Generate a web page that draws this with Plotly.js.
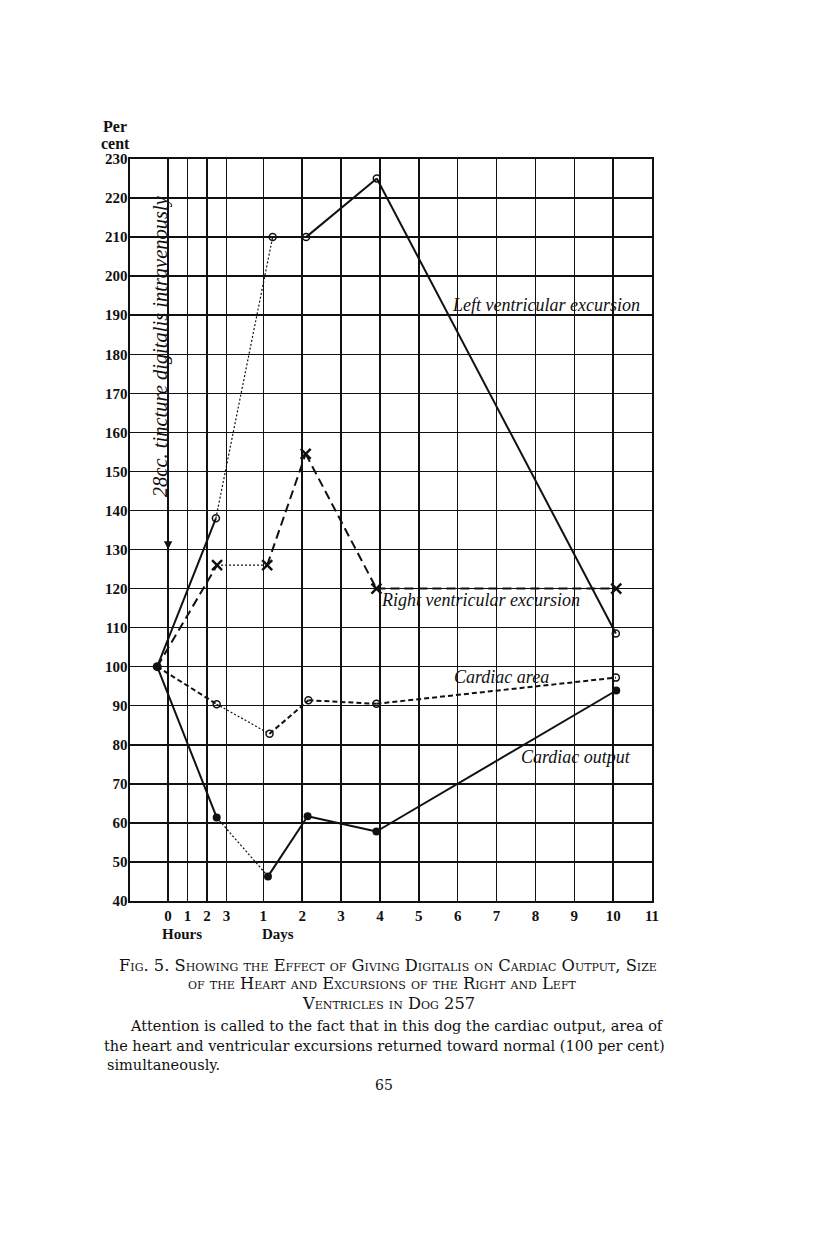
<!DOCTYPE html>
<html>
<head>
<meta charset="utf-8">
<script src="https://cdn.plot.ly/plotly-3.0.1.min.js"></script>
<style>
  html, body { margin: 0; padding: 0; background: #fff; }
  #chart { width: 816px; height: 1238px; }
</style>
</head>
<body>
<div id="chart"></div>
<script>
// ---- Data (x in axis units: hours 0..3 then days 1..11) ----
const tickPositions = [-1.45, -0.95, -0.45, 0.05, 1, 2, 3, 4, 5, 6, 7, 8, 9, 10, 11];
const tickLabels = ['0', '1', '2', '3', '1', '2', '3', '4', '5', '6', '7', '8', '9', '10', '11'];

const lvX = [-1.73, -0.22, 1.24, 2.10, 3.92, 10.07];
const lvY = [100, 138, 210, 210, 225, 108.5];
const rvX = [-1.73, -0.19, 1.10, 2.09, 3.91, 10.08];
const rvY = [100, 126, 126, 154.5, 120, 120];
const caX = [-1.73, -0.20, 1.16, 2.16, 3.91, 10.07];
const caY = [100, 90.4, 82.8, 91.4, 90.5, 97.2];
const coX = [-1.73, -0.20, 1.12, 2.14, 3.91, 10.08];
const coY = [100, 61.4, 46.3, 61.7, 57.8, 93.9];

// ---- Styles ----
const INK = '#111';
const segStyle = {
  solid: {dash: 'solid', width: 2},
  dot:   {dash: '2px,2px', width: 1.2},
  long:  {dash: '9px,5px', width: 2},
  med:   {dash: '5px,3px', width: 2}
};
const series = [
  {x: lvX, y: lvY, segs: ['solid', 'dot', 'solid', 'solid', 'solid'],
   marker: {symbol: 'circle-open', size: 7, line: {width: 1.5, color: INK}, color: INK}},
  {x: rvX, y: rvY, segs: ['long', 'dot', 'long', 'long', 'long'],
   marker: {symbol: 'x-thin-open', size: 10, line: {width: 2.4, color: INK}, color: INK}},
  {x: caX, y: caY, segs: ['med', 'dot', 'med', 'med', 'med'],
   marker: {symbol: 'circle-open', size: 7, line: {width: 1.5, color: INK}, color: INK}},
  {x: coX, y: coY, segs: ['solid', 'dot', 'solid', 'solid', 'solid'],
   marker: {symbol: 'circle', size: 8, color: INK}}
];

const traces = [];
series.forEach(s => {
  for (let i = 0; i < s.x.length - 1; i++) {
    const st = segStyle[s.segs[i]];
    traces.push({
      x: [s.x[i], s.x[i + 1]], y: [s.y[i], s.y[i + 1]],
      mode: 'lines', type: 'scatter', hoverinfo: 'skip',
      line: {color: INK, width: st.width, dash: st.dash}
    });
  }
  traces.push({
    x: s.x.slice(1), y: s.y.slice(1), mode: 'markers', type: 'scatter',
    marker: s.marker, hoverinfo: 'skip'
  });
});
// common starting point
traces.push({x: [coX[0]], y: [coY[0]], mode: 'markers', type: 'scatter',
  marker: {symbol: 'circle', size: 9, color: INK}, hoverinfo: 'skip'});

// ---- Layout helpers ----
const W = 816, H = 1238, L = 130, R = 652, T = 159, B = 901;
const px = v => (v - L) / (R - L);
const py = v => (B - v) / (B - T);

const serif = 'Liberation Serif';
const bookSerif = 'DejaVu Serif';
const tickFont = {family: serif, size: 15, color: INK, weight: 'bold'};
const labelFont = {family: serif, size: 18, color: INK, style: 'italic'};
const capFont = {family: bookSerif, size: 16.3, color: INK, variant: 'small-caps'};
const paraFont = {family: bookSerif, size: 14.5, color: INK};

function note(x, y, text, font, extra) {
  return Object.assign({xref: 'paper', yref: 'paper', x: px(x), y: py(y), text: text,
    xanchor: 'center', yanchor: 'middle', showarrow: false, font: font}, extra || {});
}

const annotations = [
  note(101, 126, 'Per', {family: serif, size: 16, color: INK, weight: 'bold'}, {xanchor: 'left'}),
  note(99, 143, 'cent', {family: serif, size: 16, color: INK, weight: 'bold'}, {xanchor: 'left'}),
  {xref: 'x', yref: 'y', x: -1.64, y: 182, xanchor: 'center', yanchor: 'middle', textangle: -90,
   text: '28cc. tincture digitalis intravenously', showarrow: false,
   font: {family: serif, size: 20.5, color: INK, style: 'italic'}},
  {xref: 'x', yref: 'y', x: -1.45, y: 130, text: '', showarrow: true, ax: 0, ay: -38,
   arrowhead: 2, arrowsize: 1.2, arrowwidth: 1.4, arrowcolor: INK},
  note(546, 305, 'Left ventricular excursion', labelFont),
  note(480, 600, 'Right ventricular excursion', labelFont),
  note(501, 677, 'Cardiac area', labelFont),
  note(576, 757, 'Cardiac output', labelFont),
  note(182, 934, 'Hours', tickFont),
  note(278, 934, 'Days', tickFont),
  note(388, 965, 'Fig. 5. Showing the Effect of Giving Digitalis on Cardiac Output, Size', capFont),
  note(382, 984, 'of the Heart and Excursions of the Right and Left', capFont),
  note(388, 1003, 'Ventricles in Dog 257', capFont),
  note(397, 1026, 'Attention is called to the fact that in this dog the cardiac output, area of', paraFont),
  note(384, 1046, 'the heart and ventricular excursions returned toward normal (100 per cent)', paraFont),
  note(105, 1065, 'simultaneously.', paraFont, {xanchor: 'left'}),
  note(384, 1085, '65', {family: bookSerif, size: 14, color: INK})
];

const axisCommon = {
  showgrid: true, gridcolor: INK, gridwidth: 1.5,
  showline: true, linecolor: INK, linewidth: 1.6, mirror: true,
  ticks: '', zeroline: false, tickfont: tickFont, fixedrange: true
};

const layout = {
  width: W, height: H,
  margin: {l: L, r: W - R, t: T, b: H - B, pad: 0},
  paper_bgcolor: '#fff', plot_bgcolor: '#fff',
  showlegend: false,
  xaxis: Object.assign({}, axisCommon, {
    range: [-2.43, 11], tickmode: 'array', tickvals: tickPositions, ticktext: tickLabels
  }),
  yaxis: Object.assign({}, axisCommon, {
    range: [40, 230], tick0: 40, dtick: 10, ticklabelstandoff: -2
  }),
  annotations: annotations
};

Plotly.newPlot('chart', traces, layout, {staticPlot: true, displayModeBar: false});
</script>
</body>
</html>
